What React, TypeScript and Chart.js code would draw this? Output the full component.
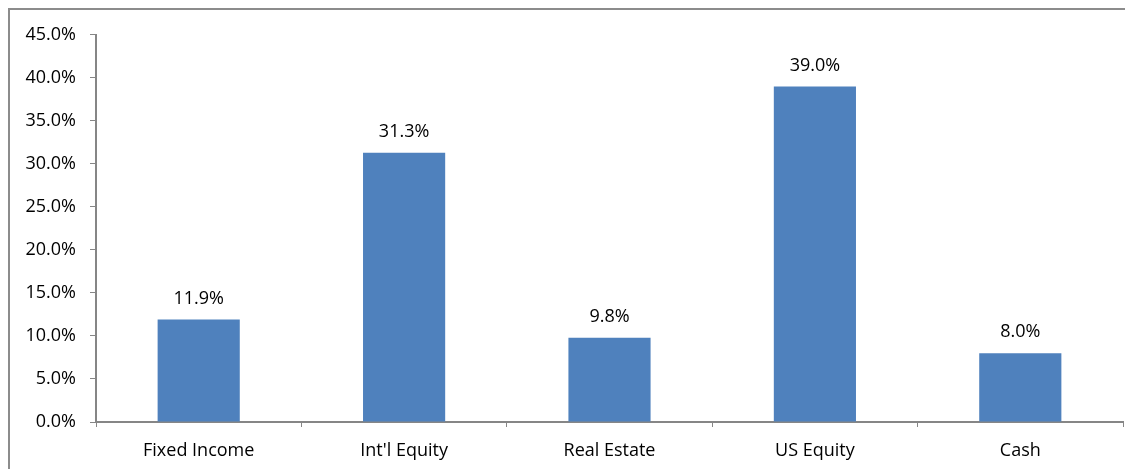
import React, { useEffect, useRef } from "react";
import { Chart, registerables } from "chart.js";

Chart.register(...registerables);

const categories = ["Fixed Income", "Int'l Equity", "Real Estate", "US Equity", "Cash"];
const allocation = [11.9, 31.3, 9.8, 39.0, 8.0];
const yMin = 0;
const yMax = 45;
const yStep = 5;

const FONT = "'Open Sans', 'Noto Sans', sans-serif";
const AXIS = "#868686";

const valueLabels = {
  id: "valueLabels",
  afterDatasetsDraw(chart: any) {
    const ctx = chart.ctx;
    const meta = chart.getDatasetMeta(0);
    ctx.save();
    ctx.font = `18px ${FONT}`;
    ctx.fillStyle = "#000";
    ctx.textAlign = "center";
    ctx.textBaseline = "middle";
    meta.data.forEach((bar: any, i: number) => {
      const v = chart.data.datasets[0].data[i] as number;
      ctx.fillText(v.toFixed(1) + "%", bar.x, bar.y - 21);
    });
    ctx.restore();
  },
};

export default function App() {
  const ref = useRef<HTMLCanvasElement>(null);
  useEffect(() => {
    if (!ref.current) return;
    const chart = new Chart(ref.current, {
      type: "bar",
      data: {
        labels: categories,
        datasets: [
          {
            data: allocation,
            backgroundColor: "#4F81BD",
            barPercentage: 0.4,
            categoryPercentage: 1,
          },
        ],
      },
      plugins: [valueLabels],
      options: {
        animation: false,
        responsive: false,
        layout: { padding: { top: 22, right: 10, left: 0, bottom: 0 } },
        plugins: { legend: { display: false }, tooltip: { enabled: false } },
        scales: {
          x: {
            afterFit(scale: any) {
              scale.height = 47;
            },
            grid: { drawOnChartArea: false, color: AXIS, tickLength: 5, offset: true },
            border: { color: AXIS, width: 2 },
            ticks: { color: "#000", font: { family: FONT, size: 18 }, padding: 13, maxRotation: 0 },
          },
          y: {
            min: yMin,
            max: yMax,
            afterFit(scale: any) {
              scale.width = 86;
            },
            grid: { drawOnChartArea: false, color: AXIS, tickLength: 6 },
            border: { color: AXIS, width: 2 },
            ticks: {
              stepSize: yStep,
              color: "#000",
              font: { family: FONT, size: 18 },
              padding: 14,
              callback: (v: any) => Number(v).toFixed(1) + "%",
            },
          },
        },
      },
    });
    return () => chart.destroy();
  }, []);
  return (
    <div
      style={{
        width: 1125,
        height: 461,
        borderTop: "2px solid #8c8c8c",
        borderLeft: "2px solid #8c8c8c",
        boxSizing: "border-box",
        overflow: "hidden",
      }}
    >
      <canvas ref={ref} width={1123} height={459} style={{ display: "block" }} />
    </div>
  );
}
